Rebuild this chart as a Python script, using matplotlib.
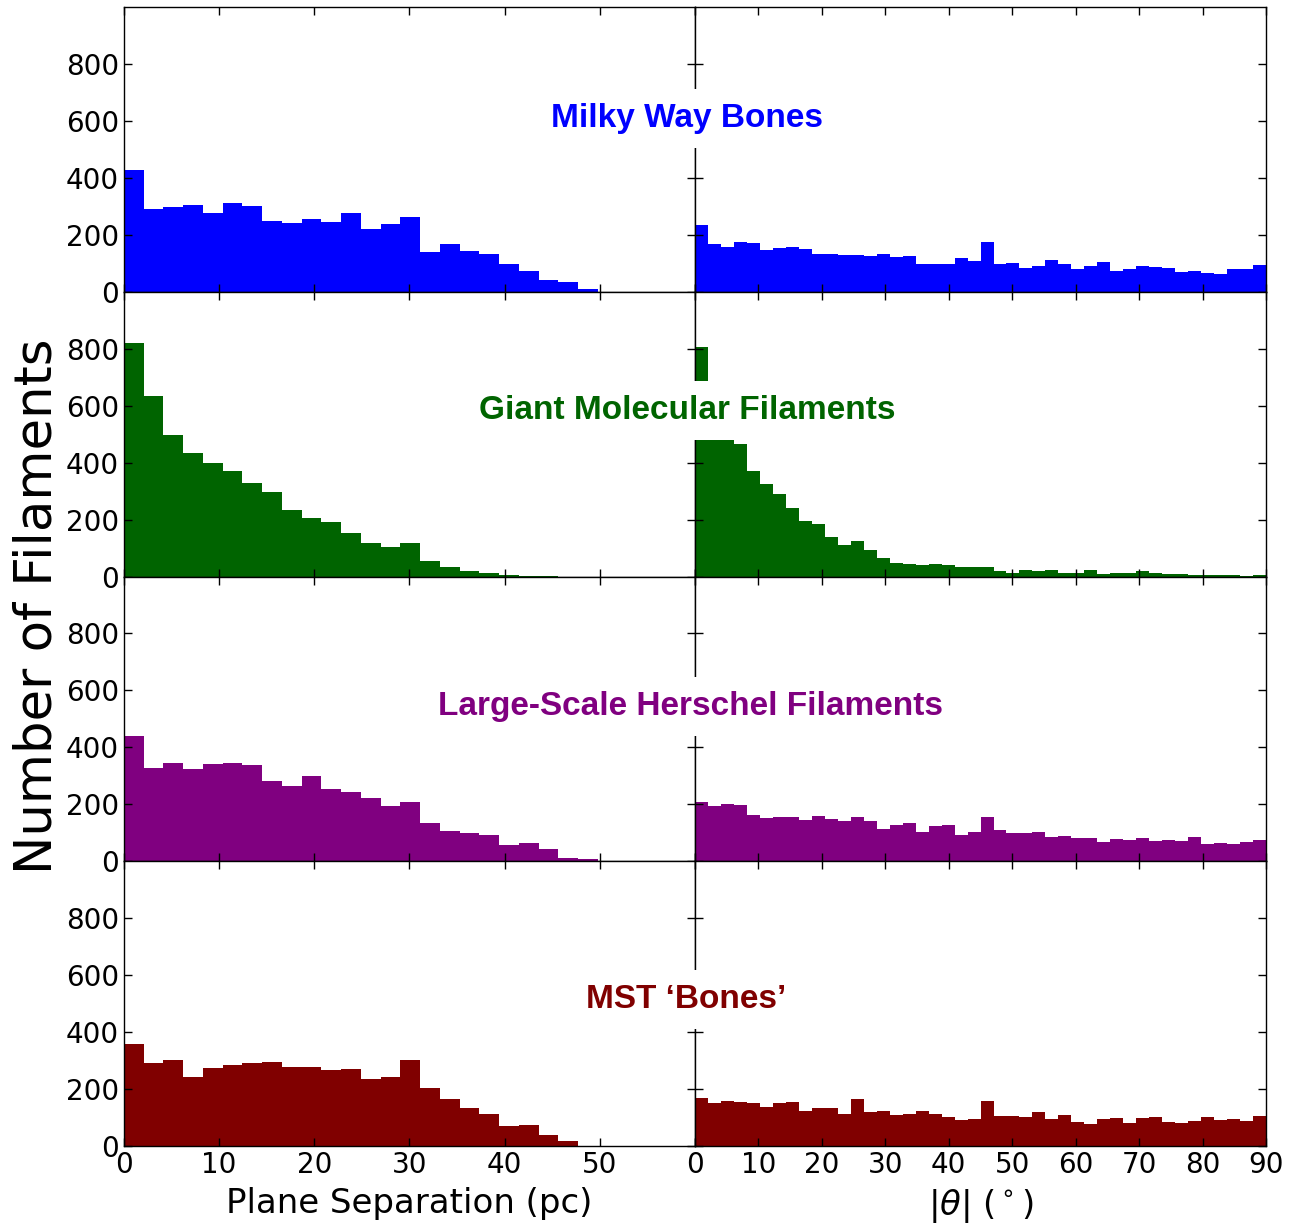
import numpy as np
import matplotlib
matplotlib.use("Agg")
import matplotlib.pyplot as plt

# bin edges
sep_edges = np.linspace(0, 49.8, 25)    # plane separation (pc), 24 bins
ang_edges = np.linspace(0, 90, 45)      # |theta| (deg), 44 bins

names = ["Milky Way Bones", "Giant Molecular Filaments",
         "Large-Scale Herschel Filaments", "MST \u2018Bones\u2019"]
colors = ["#0000ff", "#006400", "#800080", "#800000"]

# counts per bin, plane separation
mwb_sep = [429, 292, 296, 304, 278, 311, 300, 247, 240, 256, 246, 278,
           220, 239, 262, 141, 167, 142, 132, 98, 74, 41, 34, 11]
gmf_sep = [820, 635, 496, 435, 400, 370, 329, 295, 232, 205, 191, 153,
           119, 102, 116, 56, 35, 21, 14, 5, 3, 2, 0, 0]
lsh_sep = [441, 328, 346, 324, 342, 346, 339, 282, 265, 299, 254, 244,
           222, 195, 208, 133, 105, 99, 91, 56, 64, 42, 12, 7]
mst_sep = [360, 291, 301, 243, 273, 285, 293, 294, 278, 276, 266, 271,
           237, 244, 301, 203, 164, 132, 114, 72, 75, 38, 16, 1]

# counts per bin, |theta|
mwb_ang = [236, 167, 158, 175, 172, 147, 152, 156, 151, 133, 134, 129,
           129, 126, 132, 122, 126, 99, 99, 98, 119, 108, 174, 99,
           102, 85, 89, 112, 98, 80, 91, 105, 73, 79, 91, 88,
           84, 71, 74, 66, 62, 79, 79, 95]
gmf_ang = [805, 640, 560, 464, 371, 324, 289, 239, 195, 186, 139, 109,
           125, 92, 64, 47, 43, 41, 44, 39, 33, 32, 34, 20,
           13, 22, 20, 22, 12, 11, 22, 9, 13, 12, 19, 11,
           9, 9, 6, 7, 6, 5, 2, 4]
lsh_ang = [209, 193, 200, 196, 162, 152, 154, 154, 144, 158, 148, 141,
           156, 140, 112, 129, 136, 102, 124, 127, 91, 104, 154, 109,
           101, 100, 104, 86, 88, 80, 80, 67, 78, 74, 81, 71,
           74, 71, 84, 62, 64, 61, 69, 73]
mst_ang = [169, 151, 159, 155, 151, 136, 151, 155, 123, 134, 134, 111,
           165, 120, 124, 110, 114, 122, 111, 102, 91, 95, 158, 107,
           104, 102, 118, 95, 110, 83, 76, 94, 97, 82, 97, 101,
           83, 82, 88, 103, 91, 95, 87, 104]

sep_counts = [mwb_sep, gmf_sep, lsh_sep, mst_sep]
ang_counts = [mwb_ang, gmf_ang, lsh_ang, mst_ang]
label_x = [0.531, 0.531, 0.534, 0.530]   # figure fraction
label_y = [0.607, 0.583, 0.544, 0.516]   # axes fraction within each row

fig, axes = plt.subplots(4, 2, figsize=(12.94, 12.24), dpi=100)
fig.subplots_adjust(left=0.0958, right=0.9784, top=0.9943, bottom=0.0637,
                    wspace=0, hspace=0)

for i in range(4):
    axl, axr = axes[i]
    axl.bar(sep_edges[:-1], sep_counts[i], width=np.diff(sep_edges),
            align="edge", color=colors[i], linewidth=0)
    axr.bar(ang_edges[:-1], ang_counts[i], width=np.diff(ang_edges),
            align="edge", color=colors[i], linewidth=0)

    axl.set_xlim(0, 60)
    axr.set_xlim(0, 90)
    for ax in (axl, axr):
        ax.set_ylim(0, 1000)
        ax.set_yticks([0, 200, 400, 600, 800])
        ax.tick_params(direction="in", top=True, right=True, length=6,
                       width=1, labelsize=20)
        for s in ax.spines.values():
            s.set_linewidth(1.0)
    axl.set_xticks([0, 10, 20, 30, 40, 50, 60])
    axl.set_xticklabels(["0", "10", "20", "30", "40", "50", ""])
    axr.set_xticks(np.arange(0, 91, 10))
    axr.set_yticklabels([])
    if i < 3:
        axl.set_xticklabels([])
        axr.set_xticklabels([])

    # row label, drawn over both panels with a white box
    pos = axl.get_position()
    yfig = pos.y0 + label_y[i] * pos.height
    fig.text(label_x[i], yfig, names[i], color=colors[i], fontsize=24,
             fontweight="bold", family="Liberation Sans",
             ha="center", va="center",
             bbox=dict(boxstyle="square,pad=0.42", fc="white", ec="none"))

axes[3, 0].set_xlabel("Plane Separation (pc)", fontsize=24.5, labelpad=6)
axes[3, 1].set_xlabel(r"$|\theta|$ ($^\circ$)", fontsize=24.5, labelpad=6)
fig.text(0.029, 0.505, "Number of Filaments", rotation=90, fontsize=37,
         ha="center", va="center")

fig.savefig("out.png", dpi=100)
